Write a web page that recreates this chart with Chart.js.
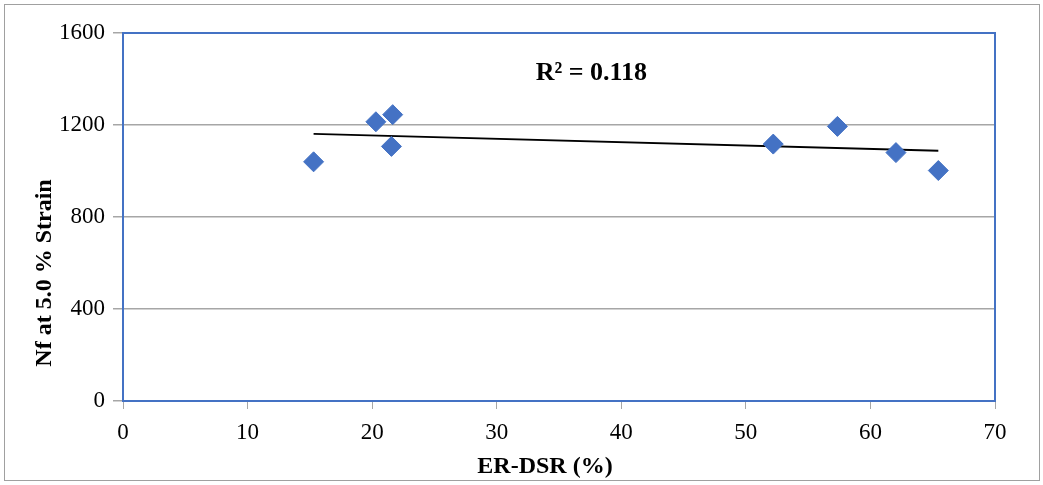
<!DOCTYPE html>
<html>
<head>
<meta charset="utf-8">
<script src="https://cdn.jsdelivr.net/npm/chart.js@4/dist/chart.umd.min.js"></script>
<style>
  html, body { margin: 0; padding: 0; background: #fff; }
  #wrap { width: 1043px; height: 485px; }
</style>
</head>
<body>
<div id="wrap"><canvas id="nfchart" width="1043" height="485"></canvas></div>
<script>
// values
const erDsr = [15.3, 20.3, 21.65, 21.55, 52.2, 57.35, 62.05, 65.45];
const nf = [1040, 1214, 1245, 1107, 1117, 1194, 1080, 1002];
const trendX = [15.3, 65.45];
const trendY = [1161, 1088];
const rSquared = '0.118';

const xTicks = [0, 10, 20, 30, 40, 50, 60, 70];
const yTicks = [0, 400, 800, 1200, 1600];
const xTitle = 'ER-DSR (%)';
const yTitle = 'Nf at 5.0 % Strain';

let points = erDsr.map((x, i) => ({x: x, y: nf[i]}));
let trend = trendX.map((x, i) => ({x: x, y: trendY[i]}));

const serif = "'Liberation Serif', 'Times New Roman', serif";

// blue plot frame, grey outer frame, axis titles, R² label
// (titles drawn here because the original sits them off-centre)
const decorations = {
    id: 'decorations',
    afterDraw(chart){
        const ctx = chart.ctx;
        const a = chart.chartArea;
        ctx.save();
        ctx.strokeStyle = '#4472c4';
        ctx.lineWidth = 2;
        ctx.strokeRect(a.left, a.top, a.right - a.left, a.bottom - a.top);

        ctx.strokeStyle = '#a0a0a0';
        ctx.lineWidth = 1;
        ctx.strokeRect(4.5, 4.5, 1035, 476);

        ctx.fillStyle = '#000';
        ctx.textAlign = 'center';
        ctx.textBaseline = 'middle';
        ctx.font = "bold 26px " + serif;
        let px = chart.scales.x.getPixelForValue(37.6);
        let py = chart.scales.y.getPixelForValue(1427);
        ctx.fillText('R² = ' + rSquared, px, py);

        ctx.font = "bold 24px " + serif;
        ctx.fillText(xTitle, 545, 467);

        ctx.translate(45, 273);
        ctx.rotate(-Math.PI / 2);
        ctx.fillText(yTitle, 0, 0);
        ctx.restore();
    }
};

let nfChart = new Chart(document.getElementById('nfchart'), {
    type: 'scatter',
    data: {
        datasets: [{
            label: 'Nf',
            data: points,
            pointStyle: 'rectRot',
            pointRadius: 10,
            pointHoverRadius: 10,
            backgroundColor: '#4472c4',
            borderColor: '#4472c4',
            borderWidth: 1,
            order: 1
        }, {
            label: 'Linear',
            type: 'line',
            data: trend,
            borderColor: '#000',
            borderWidth: 1.8,
            pointRadius: 0,
            fill: false,
            order: 2
        }]
    },
    options: {
        responsive: false,
        animation: false,
        events: [],
        layout: { padding: { top: 33, right: 48, left: 0, bottom: 0 } },
        plugins: {
            legend: { display: false },
            tooltip: { enabled: false }
        },
        scales: {
            x: {
                type: 'linear',
                min: 0,
                max: 70,
                afterBuildTicks: (s) => { s.ticks = xTicks.map(v => ({value: v})); },
                afterFit: (s) => { s.height = 84; },
                ticks: {
                    color: '#000',
                    padding: 10,
                    callback: (v) => String(v),
                    font: { family: serif, size: 23 }
                },
                grid: {
                    drawOnChartArea: false,
                    drawTicks: true,
                    tickLength: 8,
                    color: '#a6a6a6'
                },
                border: { display: false },
                title: { display: false }
            },
            y: {
                type: 'linear',
                min: 0,
                max: 1600,
                afterBuildTicks: (s) => { s.ticks = yTicks.map(v => ({value: v})); },
                afterFit: (s) => { s.width = 123; },
                ticks: {
                    color: '#000',
                    padding: 8,
                    callback: (v) => String(v),
                    font: { family: serif, size: 23 }
                },
                grid: {
                    drawTicks: true,
                    tickLength: 10,
                    color: '#a6a6a6',
                    lineWidth: 1.5
                },
                border: { display: false },
                title: { display: false }
            }
        }
    },
    plugins: [decorations]
});
</script>
</body>
</html>
